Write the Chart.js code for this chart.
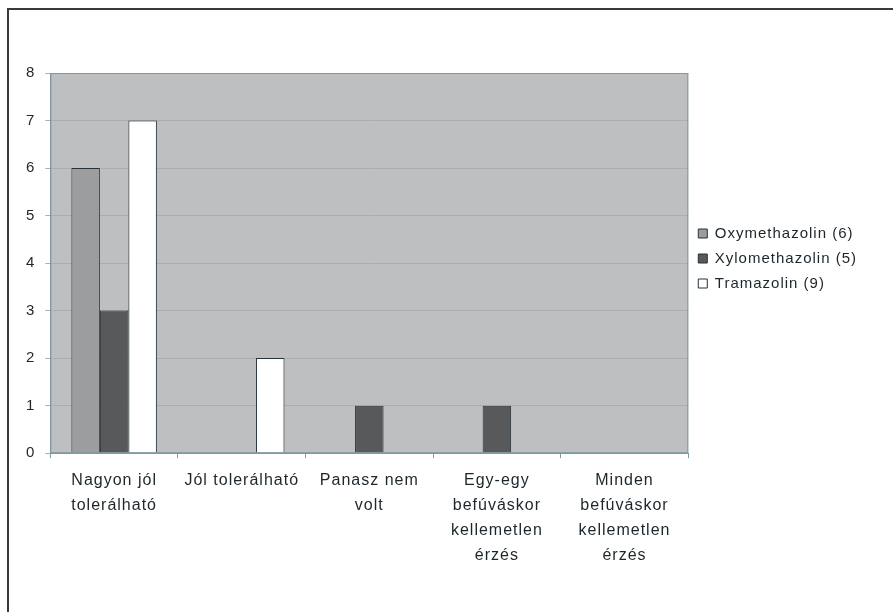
<!DOCTYPE html>
<html>
<head>
<meta charset="utf-8">
<script src="https://cdn.jsdelivr.net/npm/chart.js@4"></script>
<style>
  html, body { margin: 0; padding: 0; background: #fff; }
  #wrap { position: relative; width: 893px; height: 612px; }
  #frame {
    position: absolute; left: 7px; top: 8px; right: 0; bottom: 0;
    border-top: 2px solid #3a3a3a; border-left: 2px solid #3a3a3a;
  }
  canvas { position: absolute; left: 0; top: 0; }
</style>
</head>
<body>
<div id="wrap">
  <div id="frame"></div>
  <canvas id="chart" width="893" height="612"></canvas>
</div>
<script>
const categories = [
    ["Nagyon jól", "tolerálható"],
    "Jól tolerálható",
    ["Panasz nem", "volt"],
    ["Egy-egy", "befúváskor", "kellemetlen", "érzés"],
    ["Minden", "befúváskor", "kellemetlen", "érzés"],
];
const oxymethazolin = [6, 0, 0, 0, 0];
const xylomethazolin = [3, 0, 1, 1, 0];
const tramazolin = [7, 2, 0, 0, 0];
const yTicks = [0, 1, 2, 3, 4, 5, 6, 7, 8];

const textColor = "#1d262b";
const font = "'Liberation Sans', Arial, sans-serif";

// letter spacing to imitate the wide scanned font
const spacing = {
    id: "spacing",
    beforeLayout(chart) { chart.ctx.letterSpacing = "1px"; },
    beforeDraw(chart) { chart.ctx.letterSpacing = "1px"; },
};

// grey plot area with a thin bluish frame
const plotBg = {
    id: "plotBg",
    beforeDraw(chart) {
        const { ctx, chartArea: a } = chart;
        ctx.save();
        ctx.fillStyle = "#bdbfc0";
        ctx.fillRect(a.left, a.top, a.right - a.left, a.bottom - a.top);
        ctx.restore();
    },
    afterDatasetsDraw(chart) {
        const { ctx, chartArea: a } = chart;
        ctx.save();
        ctx.strokeStyle = "#8098a2";
        ctx.lineWidth = 1;
        ctx.strokeRect(a.left + 0.5, a.top + 0.5, a.right - a.left - 1, a.bottom - a.top - 1);
        ctx.restore();
    },
};

new Chart(document.getElementById("chart"), {
    type: "bar",
    data: {
        labels: categories,
        datasets: [
            {
                label: "Oxymethazolin (6)",
                data: oxymethazolin,
                backgroundColor: "#9b9d9f",
                borderColor: "#25323a",
                borderWidth: 1,
            },
            {
                label: "Xylomethazolin (5)",
                data: xylomethazolin,
                backgroundColor: "#58595b",
                borderColor: "#25323a",
                borderWidth: 1,
            },
            {
                label: "Tramazolin (9)",
                data: tramazolin,
                backgroundColor: "#ffffff",
                borderColor: "#25323a",
                borderWidth: 1,
            },
        ],
    },
    options: {
        responsive: false,
        animation: false,
        devicePixelRatio: 1,
        categoryPercentage: 0.67,
        barPercentage: 1.0,
        layout: {
            padding: { left: 16, top: 73, right: 26, bottom: 34 },
        },
        plugins: {
            legend: {
                position: "right",
                align: "start",
                title: {
                    display: true,
                    text: " ",
                    font: { family: font, size: 10, lineHeight: 1 },
                    padding: { top: 0, bottom: 133 },
                },
                labels: {
                    boxWidth: 9,
                    boxHeight: 9,
                    padding: 10,
                    color: textColor,
                    font: { family: font, size: 15 },
                },
            },
            tooltip: { enabled: false },
        },
        scales: {
            x: {
                grid: {
                    drawOnChartArea: false,
                    drawTicks: true,
                    tickLength: 5,
                    color: "#8098a2",
                },
                border: { color: "#8098a2" },
                ticks: {
                    color: textColor,
                    padding: 10,
                    maxRotation: 0,
                    autoSkip: false,
                    font: { family: font, size: 16, lineHeight: 1.56 },
                },
            },
            y: {
                min: 0,
                max: 8,
                afterBuildTicks(axis) {
                    axis.ticks = yTicks.map((v) => ({ value: v }));
                },
                grid: {
                    color: "#a7afb3",
                    tickLength: 5,
                },
                border: { color: "#8098a2" },
                ticks: {
                    color: textColor,
                    padding: 10,
                    font: { family: font, size: 15 },
                },
            },
        },
    },
    plugins: [spacing, plotBg],
});
</script>
</body>
</html>
